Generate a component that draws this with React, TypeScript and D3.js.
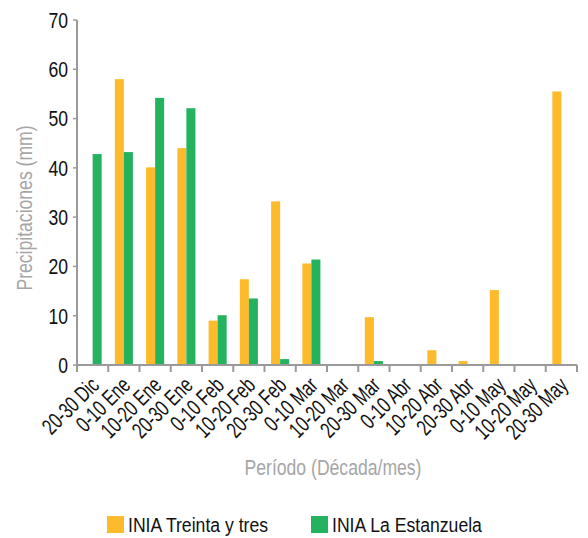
import React from "react";
import * as d3 from "d3";

const categories = [
  "20-30 Dic", "0-10 Ene", "10-20 Ene", "20-30 Ene", "0-10 Feb", "10-20 Feb",
  "20-30 Feb", "0-10 Mar", "10-20 Mar", "20-30 Mar", "0-10 Abr", "10-20 Abr",
  "20-30 Abr", "0-10 May", "10-20 May", "20-30 May",
];
const treintaYTres = [0, 58, 40.1, 44, 9, 17.4, 33.2, 20.6, 0, 9.7, 0, 3, 0.8, 15.2, 0, 55.5];
const laEstanzuela = [42.8, 43.2, 54.2, 52.1, 10.1, 13.5, 1.2, 21.4, 0, 0.8, 0, 0, 0, 0, 0, 0];
const seriesNames = ["INIA Treinta y tres", "INIA La Estanzuela"];
const seriesColors = ["#FDBB2B", "#23B35F"];
const yTicks = [0, 10, 20, 30, 40, 50, 60, 70];

const W = 588, H = 538;
const left = 77, right = 577, top = 20, bottom = 365;
const FONT = "'Liberation Sans', Arial, sans-serif";

function CText(props: {
  x: number; y: number; rotate?: number; anchor?: string; size?: number; fill?: string; dy?: string; sx?: number; children: React.ReactNode;
}) {
  const { x, y, rotate = 0, anchor = "start", size = 21, fill = "#111", dy = "0.36em", sx = 0.8, children } = props;
  return (
    <text
      transform={`translate(${x},${y}) rotate(${rotate}) scale(${sx},1)`}
      textAnchor={anchor}
      dy={dy}
      fontSize={size}
      fill={fill}
    >
      {children}
    </text>
  );
}

export default function App() {
  const x0 = d3.scaleBand<string>().domain(categories).range([left, right]).padding(0);
  const x1 = d3.scaleBand<string>().domain(seriesNames).range([0, x0.bandwidth()]).paddingInner(0).paddingOuter(0.73);
  const y = d3.scaleLinear().domain([0, 70]).range([bottom, top]);
  const data = [treintaYTres, laEstanzuela];
  const axisColor = "#9a9a9a";
  const boundaries = categories.map((c) => x0(c)!).concat([right]);

  return (
    <svg width={W} height={H} style={{ position: "absolute", left: 0, top: 0 }} fontFamily={FONT}>
      <rect width={W} height={H} fill="#fff" />
      {data.map((vals, si) =>
        vals.map((v, i) =>
          v > 0 ? (
            <rect
              key={`${si}-${i}`}
              x={x0(categories[i])! + x1(seriesNames[si])!}
              y={y(v)}
              width={x1.bandwidth()}
              height={y(0) - y(v)}
              fill={seriesColors[si]}
            />
          ) : null
        )
      )}
      <line x1={left} x2={left} y1={y(70)} y2={y(0)} stroke={axisColor} strokeWidth={2} />
      {yTicks.map((t) => (
        <g key={t}>
          <line x1={left - 4} x2={left} y1={y(t)} y2={y(t)} stroke={axisColor} strokeWidth={1.5} />
          <CText x={68} y={y(t)} anchor="end" size={22}>{t}</CText>
        </g>
      ))}
      <line x1={left} x2={right} y1={bottom} y2={bottom} stroke={axisColor} strokeWidth={2} />
      {boundaries.map((b, i) => (
        <line key={i} x1={b} x2={b} y1={bottom} y2={bottom + 7} stroke={axisColor} strokeWidth={2} />
      ))}
      {categories.map((c) => {
        const cx = x0(c)! + x0.bandwidth() / 2;
        return (
          <CText key={c} x={cx + 2} y={bottom + 16} rotate={-45} anchor="end" size={22.5} sx={0.72}>
            {c}
          </CText>
        );
      })}
      <CText x={24} y={208} rotate={-90} anchor="middle" size={22} fill="#a6a6a6">
        Precipitaciones (mm)
      </CText>
      <CText x={333} y={467} anchor="middle" size={22} fill="#a6a6a6">
        Período (Década/mes)
      </CText>
      {seriesNames.map((s, i) => {
        const lx = i === 0 ? 107 : 311;
        return (
          <g key={s}>
            <rect x={lx} y={516} width={17} height={17} fill={seriesColors[i]} />
            <CText x={lx + 21} y={524.5} size={21} sx={0.84}>{s}</CText>
          </g>
        );
      })}
    </svg>
  );
}
